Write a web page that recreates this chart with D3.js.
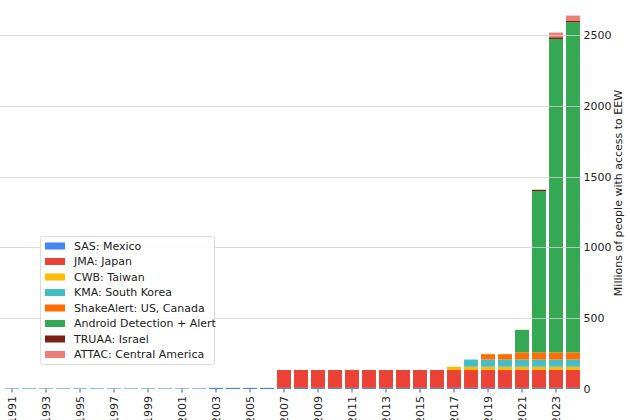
<!DOCTYPE html>
<html>
<head>
<meta charset="utf-8">
<script src="https://cdn.jsdelivr.net/npm/d3@7"></script>
<style>
  html, body { margin: 0; padding: 0; background: #fff; }
  svg { display: block; font-family: "DejaVu Sans", sans-serif; }
</style>
</head>
<body>
<svg id="chart" width="630" height="420"></svg>
<script>
const years = d3.range(1991, 2025);
const seriesNames = ["SAS: Mexico", "JMA: Japan", "CWB: Taiwan", "KMA: South Korea",
  "ShakeAlert: US, Canada", "Android Detection + Alert", "TRUAA: Israel", "ATTAC: Central America"];
const seriesColors = ["#4285F4", "#EA4335", "#FBBC04", "#46BDC6", "#FF6D01", "#34A853", "#7A2015", "#F07E78"];
// values in millions, one per year 1991..2024
const sas       = [4,4,4,4,4,4,4,4,4,4,4,4, 8,8,8,8, 8,8,8,8,8,8,8,8,8,8,8,8,8,8,8,8,8,8];
const jma       = [0,0,0,0,0,0,0,0,0,0,0,0, 0,0,0,0, 126,126,126,126,126,126,126,126,126,126,126,126,126,126,126,126,126,126];
const cwb       = [0,0,0,0,0,0,0,0,0,0,0,0, 0,0,0,0, 0,0,0,0,0,0,0,0,0,0, 23,23,23,23,23,23,23,23];
const kma       = [0,0,0,0,0,0,0,0,0,0,0,0, 0,0,0,0, 0,0,0,0,0,0,0,0,0,0, 0,51,51,51,51,51,51,51];
const shake     = [0,0,0,0,0,0,0,0,0,0,0,0, 0,0,0,0, 0,0,0,0,0,0,0,0,0,0, 0,0,38,38,50,50,50,50];
const android   = [0,0,0,0,0,0,0,0,0,0,0,0, 0,0,0,0, 0,0,0,0,0,0,0,0,0,0, 0,0,0,0,160,1140,2214,2332];
const truaa     = [0,0,0,0,0,0,0,0,0,0,0,0, 0,0,0,0, 0,0,0,0,0,0,0,0,0,0, 0,0,0,0,0,9,12,12];
const attac     = [0,0,0,0,0,0,0,0,0,0,0,0, 0,0,0,0, 0,0,0,0,0,0,0,0,0,0, 0,0,0,0,0,0,33,35];
const yTicks = [0, 500, 1000, 1500, 2000, 2500];
const xTickYears = d3.range(1991, 2024, 2);
const yLabel = "Millions of people with access to EEW";

const seriesValues = [sas, jma, cwb, kma, shake, android, truaa, attac];
const table = years.map((yr, i) => {
  const row = { year: yr };
  seriesNames.forEach((n, k) => row[n] = seriesValues[k][i]);
  return row;
});

const svg = d3.select("#chart");
const plotLeft = 3.5, plotRight = 581.5, plotTop = 0, plotBottom = 389;

const x = d3.scaleBand().domain(years).range([plotLeft, plotRight]).paddingInner(0.18).paddingOuter(0.09);
const y = d3.scaleLinear().domain([0, 2747]).range([plotBottom, plotTop]);

const stack = d3.stack().keys(seriesNames);
const stacked = stack(table);

// bars
const g = svg.append("g");
g.selectAll("g.series").data(stacked).join("g")
  .attr("class", "series")
  .attr("fill", (d, i) => seriesColors[i])
  .selectAll("rect").data(d => d.filter(p => p[1] - p[0] > 0)).join("rect")
  .attr("x", d => x(d.data.year))
  .attr("width", x.bandwidth())
  .attr("y", d => y(d[1]))
  .attr("height", d => y(d[0]) - y(d[1]));

// gridlines (over bars, light)
svg.append("g").selectAll("line").data(yTicks.filter(t => t > 0)).join("line")
  .attr("x1", 0).attr("x2", plotRight)
  .attr("y1", d => Math.round(y(d)) + 0.5).attr("y2", d => Math.round(y(d)) + 0.5)
  .attr("stroke", "#d0d0d0").attr("stroke-opacity", 0.8).attr("stroke-width", 1);

// right y axis
const yAxis = d3.axisRight(y).tickValues(yTicks).tickFormat(d3.format("d")).tickSize(0).tickPadding(2);
const ya = svg.append("g").attr("transform", `translate(${plotRight},0)`).call(yAxis);
ya.select(".domain").remove();
ya.selectAll("text").attr("font-size", 11).attr("fill", "#222").attr("font-family", "DejaVu Sans");

svg.append("text")
  .attr("transform", `translate(622,${193}) rotate(-90)`)
  .attr("text-anchor", "middle")
  .attr("font-size", 11).attr("fill", "#222")
  .text(yLabel);

// x axis
const xAxis = d3.axisBottom(x).tickValues(xTickYears).tickSize(3.5).tickPadding(3);
const xa = svg.append("g").attr("transform", `translate(0,${plotBottom})`).call(xAxis);
xa.select(".domain").remove();
xa.selectAll(".tick line").attr("stroke", "#333").attr("stroke-width", 0.8);
xa.selectAll("text")
  .attr("font-size", 11).attr("fill", "#222").attr("font-family", "DejaVu Sans")
  .attr("transform", "rotate(-90)")
  .attr("text-anchor", "end")
  .attr("x", -7).attr("y", 0).attr("dy", "0.35em");

// legend
const lg = svg.append("g").attr("transform", "translate(40,236)");
lg.append("rect").attr("x", 0.5).attr("y", 0.5).attr("width", 174).attr("height", 128)
  .attr("rx", 2).attr("fill", "#fff").attr("fill-opacity", 0.85).attr("stroke", "#dcdcdc");
const items = lg.selectAll("g.item").data(seriesNames).join("g")
  .attr("class", "item")
  .attr("transform", (d, i) => `translate(5,${10 + i * 15.5})`);
items.append("rect").attr("x", 0).attr("y", -3.5).attr("width", 20).attr("height", 7)
  .attr("fill", (d, i) => seriesColors[i]);
items.append("text").attr("x", 29).attr("y", 0).attr("dy", "0.35em")
  .attr("font-size", 11).attr("fill", "#222").text(d => d);
</script>
</body>
</html>
